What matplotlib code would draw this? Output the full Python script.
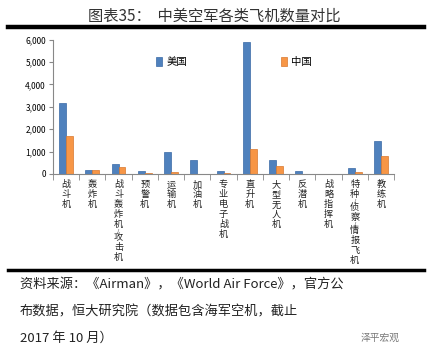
import numpy as np
import matplotlib
matplotlib.use('Agg')
import matplotlib.pyplot as plt
from matplotlib.lines import Line2D
from matplotlib.ticker import FuncFormatter, FixedLocator

plt.rcParams['font.family'] = ['Noto Sans CJK SC', 'DejaVu Sans']

categories = ['战斗机', '轰炸机', '战斗轰炸机/攻击机', '预警机', '运输机', '加油机',
              '专业电子战机', '直升机', '大型无人机', '反潜机', '战略指挥机',
              '特种/侦察/情报飞机', '教练机']
# 13 categories
us = [3150, 190, 460, 150, 1000, 640, 150, 5900, 600, 150, 0, 280, 1490]
china = [1700, 190, 300, 60, 100, 0, 50, 1130, 370, 0, 0, 100, 780]
yticks = [0, 1000, 2000, 3000, 4000, 5000, 6000]

fig = plt.figure(figsize=(4.37, 3.52), dpi=100)
ax = fig.add_axes([0.121, 0.506, 0.781, 0.381])

x = np.arange(len(categories))
w = 0.26
ax.bar(x - w / 2, us, width=w, color='#4F81BD', edgecolor='#3A6AA6', linewidth=0.5, label='美国')
ax.bar(x + w / 2, china, width=w, color='#F79646', edgecolor='#D8782E', linewidth=0.5, label='中国')

ax.set_xlim(-0.5, len(categories) - 0.5)
ax.set_ylim(0, 6000)
ax.set_yticks(yticks)
ax.yaxis.set_major_formatter(FuncFormatter(lambda v, p: f'{int(v):,}'))
ax.tick_params(axis='y', labelsize=6, length=3, color='#888888', pad=2)

# vertical category labels, one character per line ("/" is small, half step)
ax.set_xticks(x)
ax.set_xticklabels([''] * len(categories))
ax.tick_params(axis='x', length=0)
for i, c in enumerate(categories):
    off = -7.9
    prev = None
    for ch in c:
        if prev is not None:
            off -= 4.6 if (ch == '/' or prev == '/') else 7.2
        ax.annotate(ch, xy=(i, 0), xycoords=('data', 'axes fraction'),
                    xytext=(0, off), textcoords='offset points',
                    ha='center', va='center', color='#222222',
                    fontsize=4.2 if ch == '/' else 6.6)
        prev = ch
ax.xaxis.set_minor_locator(FixedLocator(np.arange(-0.5, len(categories), 1.0)))
ax.tick_params(axis='x', which='minor', length=4, color='#888888', direction='out')

for s in ['top', 'right']:
    ax.spines[s].set_visible(False)
for s in ['left', 'bottom']:
    ax.spines[s].set_color('#888888')
    ax.spines[s].set_linewidth(0.8)

ax.legend(loc='upper center', bbox_to_anchor=(0.53, 0.94), ncol=2, frameon=False,
          fontsize=7.5, handlelength=0.6, handleheight=0.9, handletextpad=0.4,
          columnspacing=9)

fig.text(0.49, 0.955, '图表35：  中美空军各类飞机数量对比', ha='center', va='center',
         fontsize=11, color='#333333')
fig.add_artist(Line2D([0.018, 0.97], [0.923, 0.923], color='black', linewidth=3.2))
fig.add_artist(Line2D([0.018, 0.97], [0.232, 0.232], color='black', linewidth=2.5))

src = ['资料来源：《Airman》，《World Air Force》，官方公',
       '布数据，恒大研究院（数据包含海军空机，截止',
       '2017 年 10 月）']
for i, line in enumerate(src):
    fig.text(0.045, 0.19 - i * 0.075, line, ha='left', va='center', fontsize=9.5,
             style='italic', color='#222222')
fig.text(0.87, 0.04, '泽平宏观', ha='center', va='center', fontsize=7, color='#777777')

plt.savefig('out.png', dpi=100)
